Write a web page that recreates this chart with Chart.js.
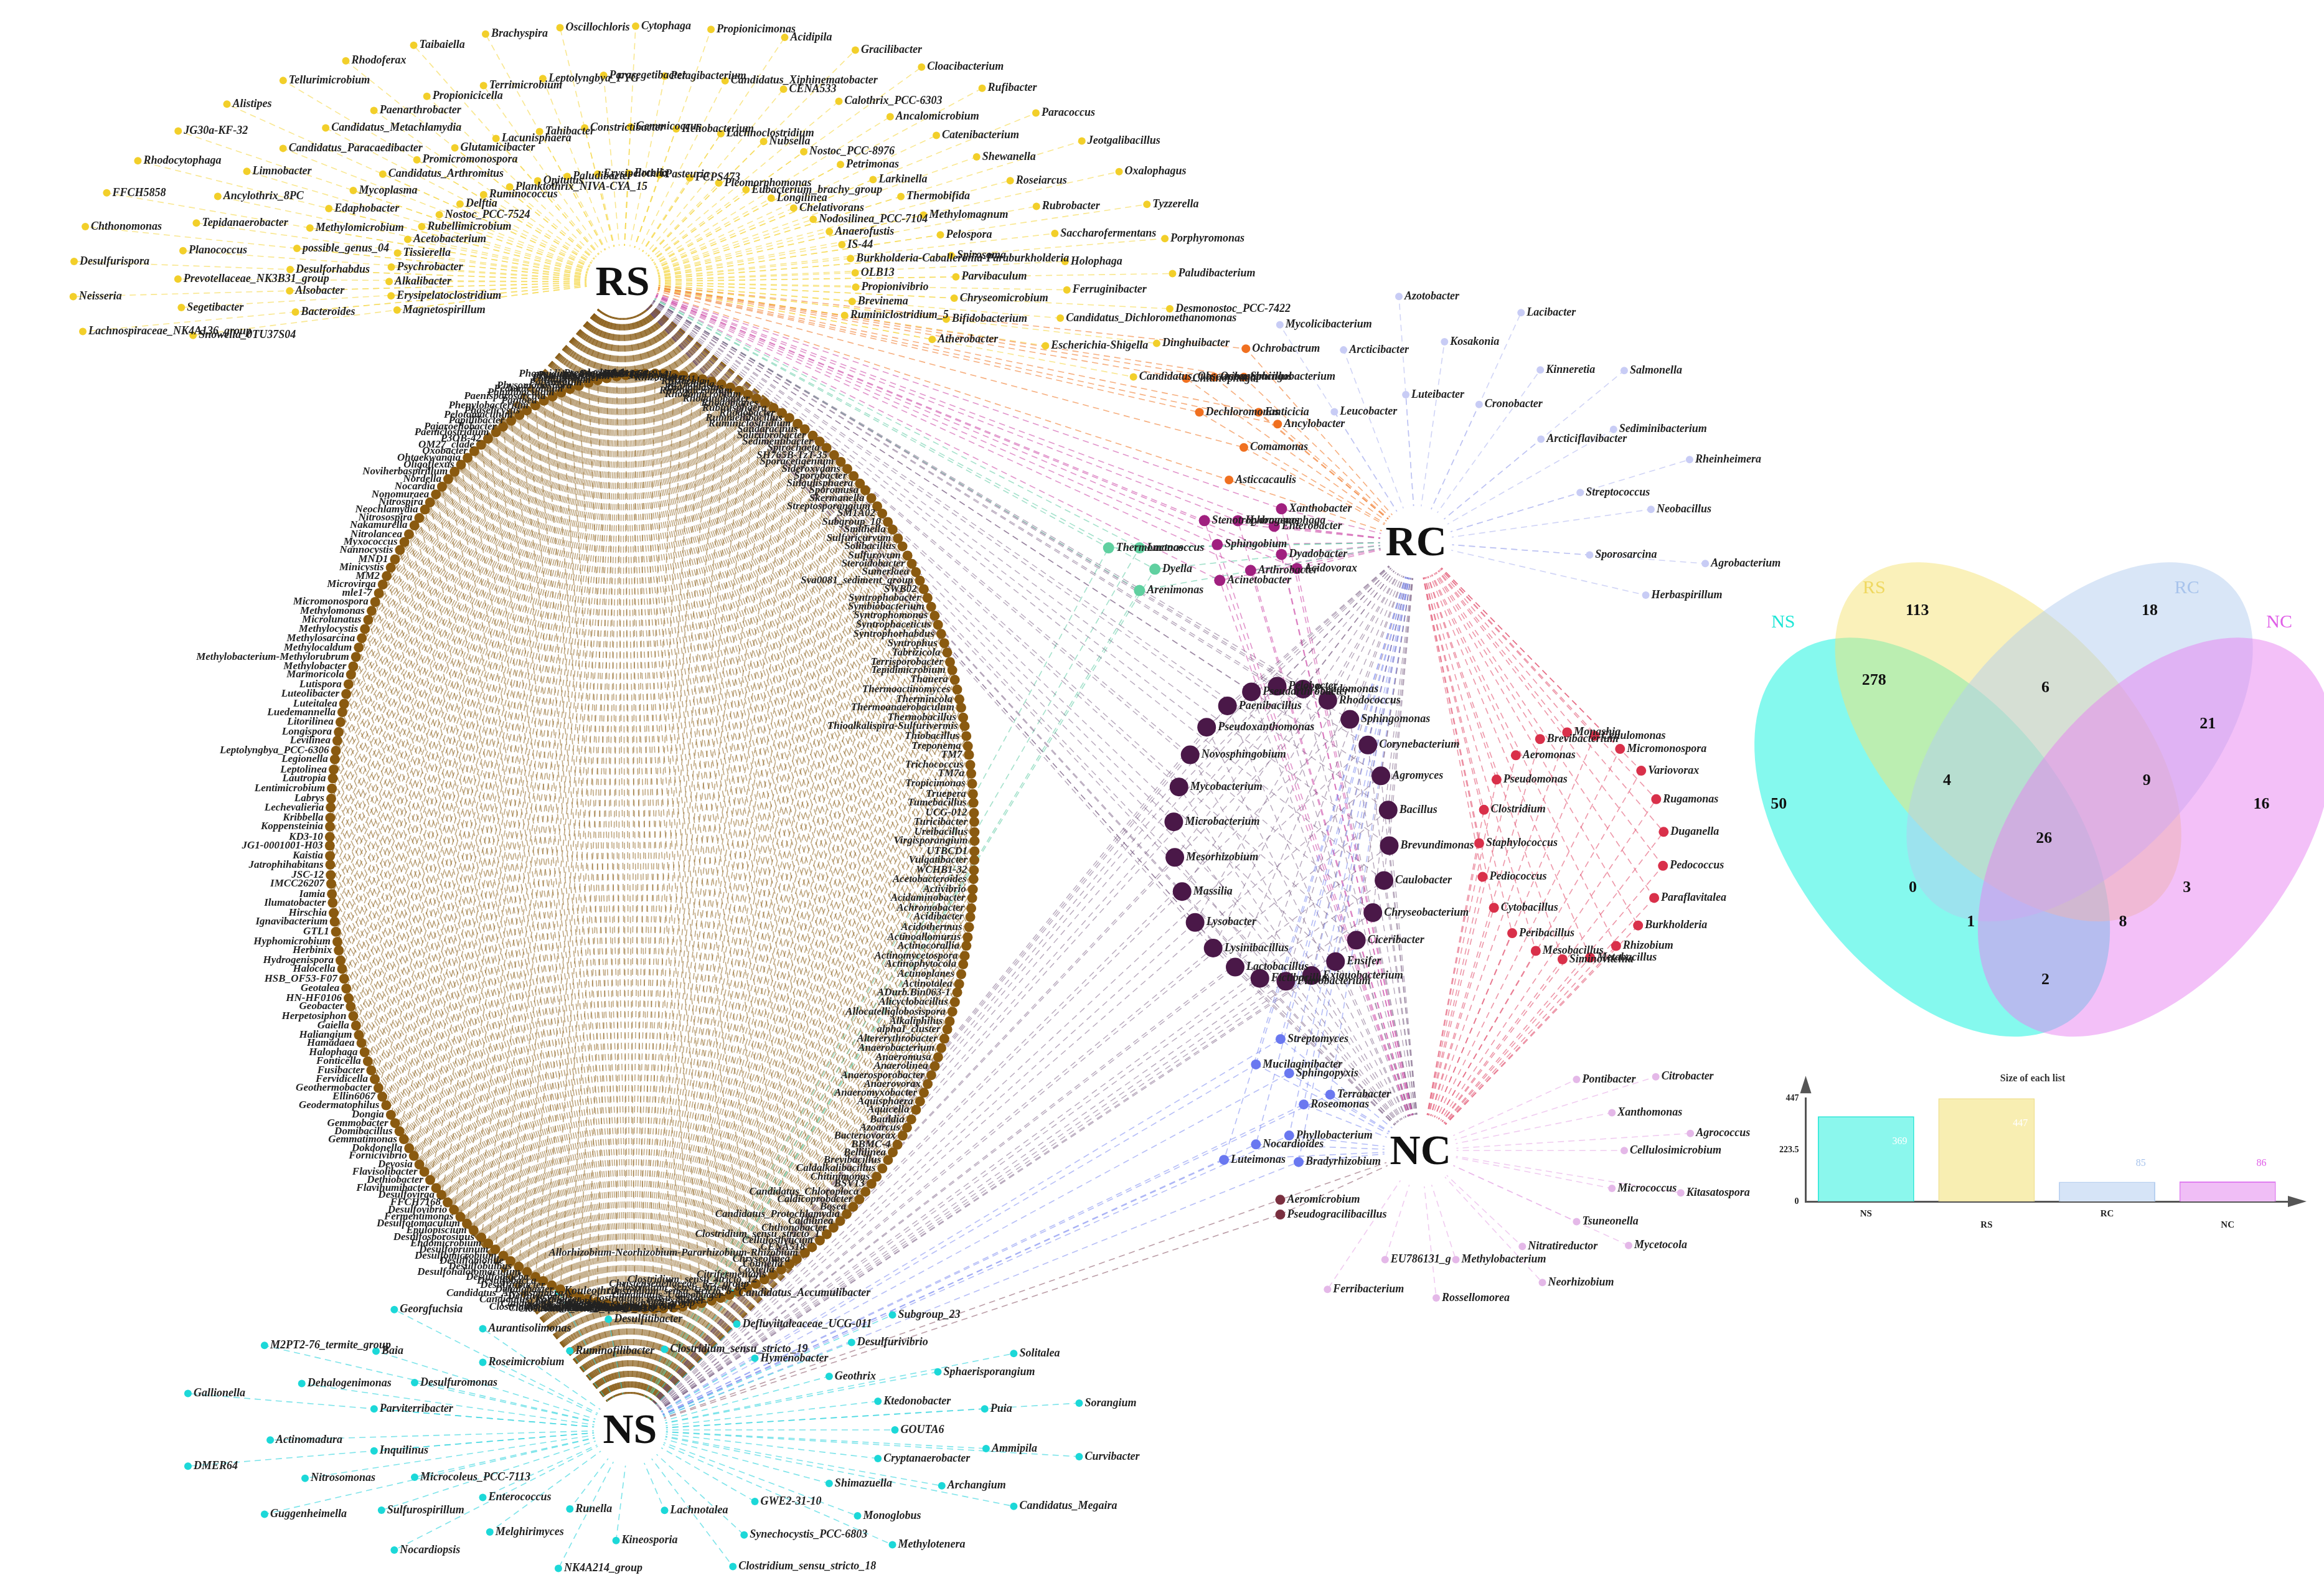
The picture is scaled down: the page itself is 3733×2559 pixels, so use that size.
<!DOCTYPE html>
<html><head><meta charset="utf-8">
<script src="https://cdn.jsdelivr.net/npm/chart.js@4.4.0/dist/chart.umd.min.js"></script>
<style>
html,body{margin:0;padding:0;background:#fff;}
#wrap{position:relative;width:3733px;height:2559px;}
#net{position:absolute;left:0;top:0;}
#barBox{position:absolute;left:2850px;top:1715px;width:870px;height:265px;}
</style></head><body>
<div id="wrap"><canvas id="net" width="3733" height="2559"></canvas>
<div id="barBox"><canvas id="bar" width="870" height="265"></canvas></div></div>
<script>
// ---------------- DATA ----------------
const hubNames = ['RS','RC','NC','NS'];
const rsOnly = ['Magnetospirillum','Bacteroides','Snowella_0TU37S04','Lachnospiraceae_NK4A136_group','Erysipelatoclostridium','Alsobacter','Segetibacter','Neisseria','Alkalibacter','Desulforhabdus','Prevotellaceae_NK3B31_group','Desulfurispora','Psychrobacter','possible_genus_04','Planococcus','Chthonomonas','Tissierella','Methylomicrobium','Tepidanaerobacter','FFCH5858','Acetobacterium','Edaphobacter','Ancylothrix_8PC','Rhodocytophaga','Rubellimicrobium','Mycoplasma','Limnobacter','JG30a-KF-32','Nostoc_PCC-7524','Candidatus_Arthromitus','Candidatus_Paracaedibacter','Alistipes','Delftia','Promicromonospora','Candidatus_Metachlamydia','Tellurimicrobium','Ruminococcus','Glutamicibacter','Paenarthrobacter','Rhodoferax','Planktothrix_NIVA-CYA_15','Lacunisphaera','Propionicicella','Taibaiella','Opitutus','Tahibacter','Terrimicrobium','Brachyspira','Paludibacter','Constrictibacter','Leptolyngbya_FYG','Oscillochloris','Erysipelothrix','Gemmicoccus','Parasegetibacter','Cytophaga','Ercella','Heliobacterium','Pelagibacterium','Propionicimonas','Pasteuria','Lachnoclostridium','Candidatus_Xiphinematobacter','Acidipila','FCPS473','Nubsella','CENA533','Gracilibacter','Pleomorphomonas','Nostoc_PCC-8976','Calothrix_PCC-6303','Cloacibacterium','Eubacterium_brachy_group','Petrimonas','Ancalomicrobium','Rufibacter','Longilinea','Larkinella','Catenibacterium','Paracoccus','Chelativorans','Thermobifida','Shewanella','Jeotgalibacillus','Nodosilinea_PCC-7104','Methylomagnum','Roseiarcus','Oxalophagus','Anaerofustis','Pelospora','Rubrobacter','Tyzzerella','IS-44','Spirosoma','Saccharofermentans','Porphyromonas','Burkholderia-Caballeronia-Paraburkholderia','Parvibaculum','Holophaga','Paludibacterium','OLB13','Chryseomicrobium','Ferruginibacter','Desmonostoc_PCC-7422','Propionivibrio','Bifidobacterium','Candidatus_Dichloromethanomonas','Dinghuibacter','Brevinema','Atherobacter','Escherichia-Shigella','Candidatus_Obscuribacter','Ruminiclostridium_5'];
const ringLeft = ['Phormidium_SAG_37.71','Pseudobacteroides','Proteiniclasticum','Porphyrobacter','Planifilum','Polyangium','Physomonospora','Pedomicrobium','Paludibaculum','Paenisporosarcina','Pantoea','Phenylobacterium','Phaselicystis','Pelotomaculum','Papillibacter','Pajaroellobacter','Paeniclostridium','P3OB-42','OM27_clade','Oxobacter','Ohtaekwangia','Oligoflexus','Noviherbaspirillum','Nordella','Nocardia','Nonomuraea','Nitrospira','Neochlamydia','Nitrosospira','Nakamurella','Nitrolancea','Myxococcus','Nannocystis','MND1','Minicystis','MM2','Microvirga','mle1-7','Micromonospora','Methylomonas','Microlunatus','Methylocystis','Methylosarcina','Methylocaldum','Methylobacterium-Methylorubrum','Methylobacter','Marmoricola','Lutispora','Luteolibacter','Luteitalea','Luedemannella','Litorilinea','Longispora','Levilinea','Leptolyngbya_PCC-6306','Legionella','Leptolinea','Lautropia','Lentimicrobium','Labrys','Lechevalieria','Kribbella','Koppensteinia','KD3-10','JG1-0001001-H03','Kaistia','Jatrophihabitans','JSC-12','IMCC26207','Iamia','Ilumatobacter','Hirschia','Ignavibacterium','GTL1','Hyphomicrobium','Herbinix','Hydrogenispora','Halocella','HSB_OF53-F07','Geotalea','HN-HF0106','Geobacter','Herpetosiphon','Gaiella','Haliangium','Hamadaea','Halophaga','Fonticella','Fusibacter','Fervidicella','Geothermobacter','Ellin6067','Geodermatophilus','Dongia','Gemmobacter','Domibacillus','Gemmatimonas','Dokdonella','Fornicivibrio','Devosia','Flavisolibacter','Dethiobacter','Flavihumibacter','Desulfovirga','FFCH7168','Desulfovibrio','Fermentimonas','Desulfotomaculum','Epulopiscium','Desulfosporosinus','Endomicrobium','Desulfoprunum','Desulfomicrobium','Desulfomonile','Desulfobulbus','Desulfohalotomaculum','Desulfoglaeba','Desulfobacca','Desulfitibacter','Dehalobacter','Candidatus_Alysiosphaera','Defluviicoccus','Candidatus_Koribacter','Deferrisoma','Candidatus_Solibacter','Dactylosporangium','Clostridium_sensu_stricto_10','Catenulispora','Clostridium_sensu_stricto_13','Clostridium_sensu_stricto_11','Candidatus_Latescibacter','Clostridium_sensu_stricto_3','CL500-29_marine_group','Clostridium_sensu_stricto_5','Cytophaga_xylanolytica_group','Conexibacter','Clostridium_sensu_stricto_9','Candidatus_Udaeobacter','Clostridium_sensu_stricto_8','Clostridium_sensu_stricto_6','Christensenellaceae_R-7_group','Clostridium_sensu_stricto_12','Citrifermentans','Coxiella','Cohnella','Chryseolinea','Allorhizobium-Neorhizobium-Pararhizobium-Rhizobium'];
const ringRight = ['CENA518','Cellulosilyticum','Clostridium_sensu_stricto_1','Chthonobacter','Caldilinea','Candidatus_Protochlamydia','Bosea','Caldicoprobacter','Candidatus_Chloroploca','BSV13','Chitinimonas','Caldalkalibacillus','Brevibacillus','Bellilinea','BBMC-4','Bacteriovorax','Azoarcus','Bauldia','Aquicella','Aquisphaera','Anaeromyxobacter','Anaerovorax','Anaerosporobacter','Anaerolinea','Anaeromusa','Anaerobacterium','Altererythrobacter','alphaI_cluster','Alkaliphilus','Allocatelliglobosispora','Alicyclobacillus','ADurb.Bin063-1','Actinotalea','Actinoplanes','Actinophytocola','Actinomycetospora','Actinocorallia','Actinoallomurus','Acidothermus','Acidibacter','Achromobacter','Acidaminobacter','Activibrio','Acetobacteroides','WCHB1-32','Vulgatibacter','UTBCD1','Virgisporangium','Ureibacillus','Turicibacter','UCG-012','Tumebacillus','Truepera','Tropicimonas','TM7a','Trichococcus','TM7','Treponema','Thiobacillus','Thioalkalispira-Sulfurivermis','Thermobacillus','Thermoanaerobaculum','Thermincola','Thermoactinomyces','Thauera','Tepidimicrobium','Terrisporobacter','Tabrizicola','Syntrophus','Syntrophorhabdus','Syntrophaceticus','Syntrophomonas','Symbiobacterium','Syntrophobacter','SWB02','Sva0081_sediment_group','Sumerlaea','Steroidobacter','Sulfurovum','Solibacillus','Sulfuricurvum','Smithella','Subgroup_10','SM1A02','Streptosporangium','Skermanella','Sporomusa','Singulisphaera','Sporobacter','Sideroxydans','Sporacetigenium','SH765B-TzT-35','Spirochaeta','Sedimentibacter','Solirubrobacter','Sandaracinus','Ruminiclostridium','Rummeliibacillus','Rhodobacter','Rubinisphaera','Rhodoplanes','Rhodanobacter','Rhodomicrobium','Rhizomicrobium','Rhodoblastus','Reyranella','Rhizocola','RB41','Rhizobacter','Raineyella','RBG-16-58-14','RBG-13-54-9','Pseudorhodobacter','Pseudolabrys'];
const rcOnly = ['Leucobacter','Arcticibacter','Mycolicibacterium','Luteibacter','Kosakonia','Azotobacter','Cronobacter','Kinneretia','Lacibacter','Arcticiflavibacter','Sediminibacterium','Salmonella','Streptococcus','Neobacillus','Rheinheimera','Sporosarcina','Herbaspirillum','Agrobacterium'];
const rsRc = ['Dechloromonas','Chitinophaga','Oceanobacillus','Ochrobactrum','Sphingobacterium','Ancylobacter','Emticicia','Asticcacaulis','Comamonas'];
const rsRcNc = ['Sphingobium','Stenotrophomonas','Hydrogenophaga','Xanthobacter','Enterobacter','Acidovorax','Dyadobacter','Acinetobacter','Arthrobacter'];
const nsRsRc = ['Thermomonas','Lactococcus','Dyella','Arenimonas'];
const allFour = ['Paenibacillus','Pseudarthrobacter','Pelobacter','Pseudomonas','Rhodococcus','Sphingomonas','Corynebacterium','Agromyces','Bacillus','Brevundimonas','Caulobacter','Chryseobacterium','Ciceribacter','Ensifer','Exiguobacterium','Flavobacterium','Fictibacillus','Lactobacillus','Lysinibacillus','Lysobacter','Massilia','Mesorhizobium','Microbacterium','Mycobacterium','Novosphingobium','Pseudoxanthomonas'];
const rcNc = ['Brevibacterium','Monashia','Cellulomonas','Micromonospora','Variovorax','Rugamonas','Duganella','Pedococcus','Paraflavitalea','Burkholderia','Rhizobium','Metabacillus','Siminovitchia','Mesobacillus','Peribacillus','Cytobacillus','Pediococcus','Staphylococcus','Clostridium','Pseudomonas','Aeromonas'];
const ncOnly = ['Pontibacter','Citrobacter','Xanthomonas','Agrococcus','Cellulosimicrobium','Kitasatospora','Micrococcus','Mycetocola','Tsuneonella','Neorhizobium','Nitratireductor','Rossellomorea','Methylobacterium','Ferribacterium','EU786131_g'];
const nsRcNc = ['Mucilaginibacter','Streptomyces','Sphingopyxis','Terrabacter','Roseomonas','Bradyrhizobium','Phyllobacterium','Luteimonas','Nocardioides'];
const nsNc = ['Aeromicrobium','Pseudogracilibacillus'];
const nsOnly = ['Parviterribacter','Dehalogenimonas','Gallionella','Desulfuromonas','Baia','M2PT2-76_termite_group','Roseimicrobium','Aurantisolimonas','Georgfuchsia','Ruminofilibacter','Desulfitibacter','Kouleothrix','Clostridium_sensu_stricto_19','Defluviitaleaceae_UCG-011','Candidatus_Accumulibacter','Hymenobacter','Desulfurivibrio','Subgroup_23','Geothrix','Sphaerisporangium','Solitalea','Ktedonobacter','Puia','Sorangium','GOUTA6','Ammipila','Curvibacter','Cryptanaerobacter','Archangium','Candidatus_Megaira','Shimazuella','Monoglobus','Methylotenera','GWE2-31-10','Synechocystis_PCC-6803','Clostridium_sensu_stricto_18','Lachnotalea','Kineosporia','NK4A214_group','Runella','Melghirimyces','Nocardiopsis','Enterococcus','Sulfurospirillum','Guggenheimella','Microcoleus_PCC-7113','Nitrosomonas','DMER64','Inquilinus','Actinomadura'];
// Venn
const vennSets = ['NS','RS','RC','NC'];
const vennRegions = ['NS','RS','RC','NC','NS&RS','RS&RC','RC&NC','NS&RC','RS&NC','NS&NC','NS&RS&RC','RS&RC&NC','NS&RS&NC','NS&RC&NC','all'];
const vennCounts = [50,113,18,16,278,6,21,0,3,2,4,9,1,8,26];
// Bars
const barLabels = ['NS','RS','RC','NC'];
const barValues = [369,447,85,86];
const barTicks = [0,223.5,447];

// ---------------- LAYOUT ----------------
const S = 3733/1560;
const hubPos = {RS:[993,443],RC:[2278,866],NC:[2285,1855],NS:[1005,2309]};
function arc(names,cx,cy,rx,ry,a0,a1,scales){
  const n=names.length, k=scales.length, out=[];
  names.forEach((nm,i)=>{
    const ring=i%k, j=Math.floor(i/k);
    const cnt=Math.ceil((n-ring)/k);
    const t=cnt>1? j/(cnt-1):0.5;
    const a=(a0+(a1-a0)*(t+ (ring%2)*0.5/Math.max(cnt,1)))*Math.PI/180;
    out.push({x:cx+rx*scales[ring]*Math.cos(a), y:cy-ry*scales[ring]*Math.sin(a), name:nm});
  });
  return out;
}
function ellipse(names,cx,cy,rx,ry,start,dir){
  const n=names.length;
  return names.map((nm,i)=>{const a=(start+dir*360*i/n)*Math.PI/180;
    return {x:cx+rx*Math.cos(a), y:cy-ry*Math.sin(a), name:nm};});
}
function ellipseEven(names,cx,cy,rx,ry,start){
  const M=2000, cum=[0], pts=[];
  for(let i=0;i<=M;i++){const a=(start+360*i/M)*Math.PI/180;pts.push([cx+rx*Math.cos(a),cy-ry*Math.sin(a)]);
    if(i>0)cum.push(cum[i-1]+Math.hypot(pts[i][0]-pts[i-1][0],pts[i][1]-pts[i-1][1]));}
  const L=cum[M], n=names.length; let k=0;
  return names.map((nm,i)=>{const target=L*(i+0.5)/n; while(cum[k]<target)k++; return {x:pts[k][0],y:pts[k][1],name:nm};});
}
const ringNames = ringLeft.concat(ringRight);
const groups = [
 {pts:ellipseEven(ringNames,1041,1352,522,760,92),color:'#8a5a10',r:8,hubs:['RS','NS'],line:'rgba(139,95,25,0.55)',side:'L',font:17},
 {pts:arc(rsOnly,993,443,900,420,195,-18,[0.42,0.6,0.8,0.99]),color:'#f2cf2a',r:6,hubs:['RS'],line:'rgba(245,215,70,0.6)',side:'R',font:18},
 {pts:arc(rcOnly,2278,866,470,400,118,-5,[0.6,0.82,1.0]),color:'#c8ccf5',r:6,hubs:['RC'],line:'rgba(176,184,240,0.6)',side:'R',font:18},
 {pts:arc(rsRc,1975,655,80,110,180,-60,[0.6,1.0]),color:'#f07020',r:7,hubs:['RS','RC'],line:'rgba(240,120,40,0.6)',side:'R',font:18},
 {pts:arc(rsRcNc,2010,870,90,70,180,-90,[0.6,1.0]),color:'#a0207f',r:9,hubs:['RS','RC','NC'],line:'rgba(200,60,160,0.55)',side:'R',font:18},
 {pts:arc(nsRsRc,1805,910,50,40,120,-60,[1.0]),color:'#60d0a0',r:9,hubs:['NS','RS','RC'],line:'rgba(90,200,160,0.55)',side:'R',font:18},
 {pts:ellipse(allFour,2060,1340,175,240,120,-1),color:'#4a1848',r:15,hubs:['RS','RC','NC','NS'],line:'rgba(110,80,120,0.5)',side:'R',font:18},
 {pts:ellipse(rcNc,2530,1360,150,185,110,-1),color:'#d9304a',r:8,hubs:['RC','NC'],line:'rgba(225,80,110,0.6)',side:'R',font:18},
 {pts:arc(ncOnly,2285,1855,440,240,40,-100,[0.75,1.0]),color:'#e4b8e8',r:6,hubs:['NC'],line:'rgba(230,170,230,0.6)',side:'R',font:18},
 {pts:arc(nsRcNc,2030,1780,110,110,100,-100,[0.6,1.0]),color:'#6a78f0',r:8,hubs:['NS','RC','NC'],line:'rgba(110,125,240,0.5)',side:'R',font:18},
 {pts:arc(nsNc,2058,1947,1,12,90,-90,[1.0]),color:'#7a3040',r:8,hubs:['NS','NC'],line:'rgba(120,60,80,0.5)',side:'R',font:18},
 {pts:arc(nsOnly,1005,2309,780,240,165,-165,[0.55,0.75,0.95]),color:'#1cd8d8',r:6,hubs:['NS'],line:'rgba(40,210,220,0.6)',side:'R',font:18},
];

const venn = [
 {c:[1297,562],a:154,b:92,rot:52,fill:'rgba(0,242,220,0.48)'},
 {c:[1348,498],a:146,b:82,rot:47,fill:'rgba(245,225,110,0.48)'},
 {c:[1396,498],a:146,b:82,rot:-47,fill:'rgba(180,205,240,0.5)'},
 {c:[1447,562],a:154,b:92,rot:-52,fill:'rgba(232,130,242,0.5)'},
];
const vennSetLabelPos=[[1197,418,'#1ee6d6'],[1258,395,'#efd860'],[1468,395,'#a8c4ec'],[1530,418,'#e060e8']];
const vennCountPos=[[1194,540],[1287,410],[1443,410],[1518,540],[1258,457],[1373,462],[1482,486],[1284,596],[1468,596],[1373,658],[1307,524],[1441,524],[1323,619],[1425,619],[1372,563]];

const datasets = groups.map(g=>({type:'scatter',data:g.pts.map(p=>({x:p.x,y:p.y})),pointRadius:g.r,pointBackgroundColor:g.color,pointBorderWidth:0,clip:false}));
datasets.push({type:'scatter',data:hubNames.map(h=>({x:hubPos[h][0],y:hubPos[h][1]})),pointRadius:0,clip:false});

const netPlugin = {
 id:'net',
 beforeDatasetsDraw(chart){
  const ctx=chart.ctx, xs=chart.scales.x, ys=chart.scales.y;
  ctx.save(); ctx.setLineDash([10,7]);
  groups.forEach(g=>{
   ctx.strokeStyle=g.line; ctx.lineWidth=g.r>=10?1.4:1.6;
   g.pts.forEach(p=>{
    g.hubs.forEach(h=>{
     ctx.beginPath();
     ctx.moveTo(xs.getPixelForValue(hubPos[h][0]),ys.getPixelForValue(hubPos[h][1]));
     ctx.lineTo(xs.getPixelForValue(p.x),ys.getPixelForValue(p.y));ctx.stroke();
    });
   });
  });
  ctx.restore();
 },
 afterDatasetsDraw(chart){
  const ctx=chart.ctx, xs=chart.scales.x, ys=chart.scales.y;
  ctx.save();
  groups.forEach(g=>{
   ctx.font='italic bold '+g.font+'px "Liberation Serif"';
   ctx.fillStyle='#222'; ctx.textBaseline='middle';
   g.pts.forEach(p=>{
    const px=xs.getPixelForValue(p.x), py=ys.getPixelForValue(p.y);
    if(g.side==='L'){ctx.textAlign='right';ctx.fillText(p.name,px-g.r-3,py);}
    else {ctx.textAlign='left';ctx.fillText(p.name,px+g.r+3,py);}
   });
  });
  hubNames.forEach(h=>{
   const px=xs.getPixelForValue(hubPos[h][0]), py=ys.getPixelForValue(hubPos[h][1]);
   ctx.beginPath();ctx.arc(px,py,58,0,Math.PI*2);ctx.fillStyle='#fff';ctx.fill();
   ctx.fillStyle='#111';ctx.font='bold 68px "Liberation Serif"';ctx.textAlign='center';ctx.textBaseline='middle';
   ctx.fillText(h,px,py+4);
  });
  venn.forEach(e=>{
   ctx.beginPath();ctx.ellipse(e.c[0]*S,e.c[1]*S,e.a*S,e.b*S,e.rot*Math.PI/180,0,Math.PI*2);
   ctx.fillStyle=e.fill;ctx.fill();
  });
  ctx.textAlign='center';ctx.textBaseline='middle';
  vennSets.forEach((s,i)=>{ctx.font='30px "Liberation Serif"';ctx.fillStyle=vennSetLabelPos[i][2];
   ctx.fillText(s,vennSetLabelPos[i][0]*S,vennSetLabelPos[i][1]*S);});
  ctx.font='bold 26px "Liberation Serif"';ctx.fillStyle='#111';
  vennCounts.forEach((c,i)=>ctx.fillText(String(c),vennCountPos[i][0]*S,vennCountPos[i][1]*S));
  ctx.restore();
 }
};

new Chart(document.getElementById('net'),{
 type:'scatter',data:{datasets},
 options:{responsive:false,animation:false,devicePixelRatio:1,layout:{padding:0},
  plugins:{legend:{display:false},tooltip:{enabled:false}},
  scales:{x:{type:'linear',min:0,max:3733,display:false},y:{type:'linear',min:0,max:2559,reverse:true,display:false}}},
 plugins:[netPlugin]
});

const barFill=['rgba(110,245,232,0.8)','rgba(247,236,170,0.9)','rgba(214,228,247,1)','rgba(240,190,246,1)'];
const barBorder=['#30e8d8','#f0e08c','#b8d0f0','#e07ef0'];
const barValColor=['#fff','#fff','#a8c4ec','#e060e8'];
const barExtra={id:'barExtra',afterDatasetsDraw(chart){
 const ctx=chart.ctx, meta=chart.getDatasetMeta(0), ca=chart.chartArea;
 ctx.save();ctx.font='16px "Liberation Serif"';ctx.textAlign='center';
 meta.data.forEach((b,i)=>{ctx.fillStyle=barValColor[i];
  const y=i<2? b.y+45 : b.y-25; ctx.fillText(String(barValues[i]),b.x+b.width*0.35,y);});
 ctx.fillStyle='#555';
 ctx.beginPath();ctx.moveTo(ca.left,ca.top-36);ctx.lineTo(ca.left-9,ca.top-8);ctx.lineTo(ca.left+9,ca.top-8);ctx.fill();
 ctx.beginPath();ctx.moveTo(ca.right+30,ca.bottom);ctx.lineTo(ca.right,ca.bottom-9);ctx.lineTo(ca.right,ca.bottom+9);ctx.fill();
 ctx.restore();}};
new Chart(document.getElementById('bar'),{
 type:'bar',
 data:{labels:barLabels.map((l,i)=>i%2?['',l]:[l]),datasets:[{data:barValues,backgroundColor:barFill,borderColor:barBorder,borderWidth:2,barPercentage:0.8,categoryPercentage:1}]},
 options:{responsive:false,animation:false,devicePixelRatio:1,layout:{padding:{top:0,right:45,left:5}},
  plugins:{legend:{display:false},tooltip:{enabled:false},
   title:{display:true,text:'Size of each list',color:'#333',font:{family:'Liberation Serif',weight:'bold',size:16},padding:{top:8,bottom:22}}},
  scales:{
   x:{grid:{display:false},border:{color:'#555',width:3},ticks:{color:'#222',font:{family:'Liberation Serif',weight:'bold',size:15}}},
   y:{min:0,max:447,afterBuildTicks:ax=>{ax.ticks=barTicks.map(v=>({value:v}));},grid:{display:false},border:{color:'#555',width:3},
      ticks:{color:'#222',font:{family:'Liberation Serif',weight:'bold',size:14}}}}},
 plugins:[barExtra]
});
</script></body></html>
